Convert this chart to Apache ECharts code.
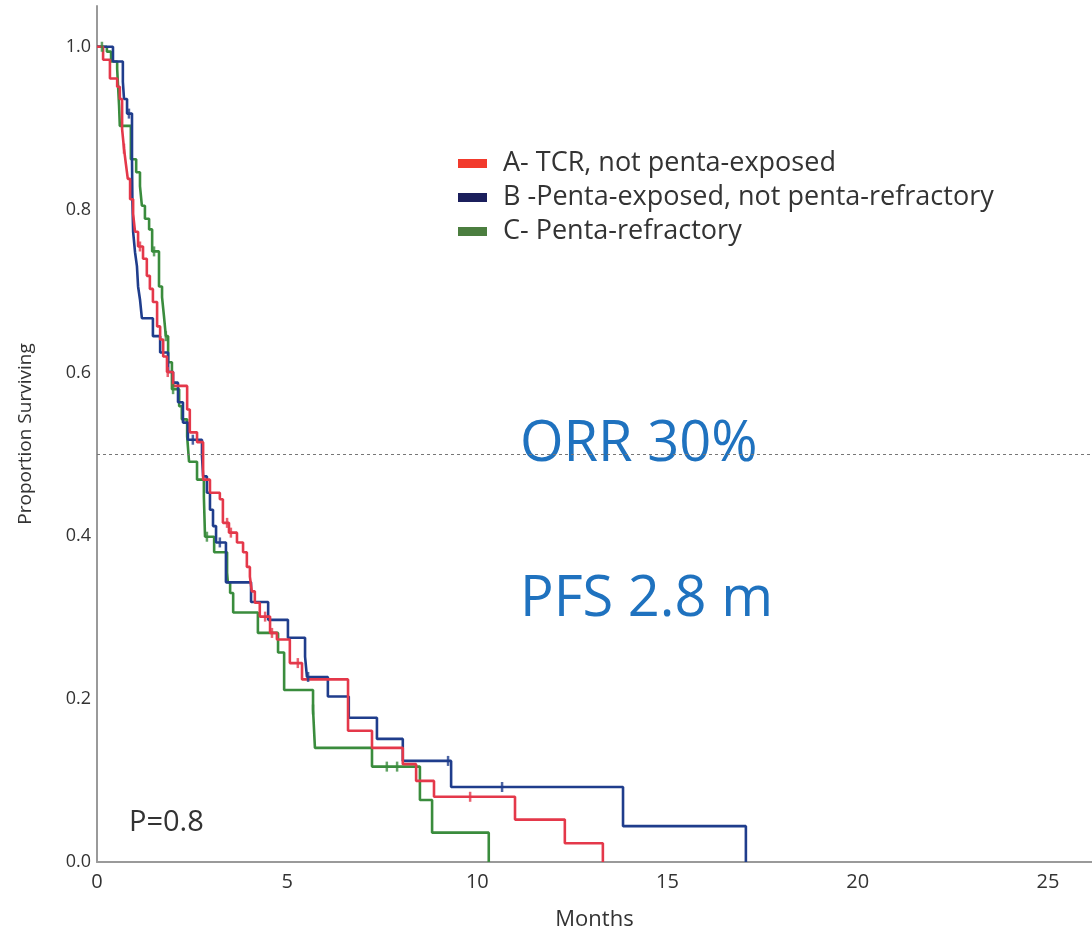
<!DOCTYPE html>
<html>
<head>
<meta charset="utf-8">
<title>Proportion Surviving by group</title>
<script src="https://cdn.jsdelivr.net/npm/echarts@6/dist/echarts.min.js"></script>
<style>
  html, body { margin: 0; padding: 0; background: #fff; }
  #chart { width: 1092px; height: 930px; }
</style>
</head>
<body>
<div id="chart"></div>
<script>
// Kaplan-Meier steps: event time (months) and survival after the event
const groupNames = [
  'A- TCR, not penta-exposed',
  'B -Penta-exposed, not penta-refractory',
  'C- Penta-refractory'
];

const timesA = [0, 0.16, 0.34, 0.53, 0.60, 0.66, 0.71, 0.76, 0.81, 0.87, 0.95, 1.00, 1.08, 1.21, 1.31, 1.39, 1.47, 1.58, 1.66, 1.74, 1.84, 2.00, 2.37, 2.44, 2.63, 2.79, 2.97, 3.23, 3.31, 3.47, 3.68, 3.84, 3.94, 4.02, 4.07, 4.15, 4.28, 4.55, 4.73, 5.07, 5.39, 6.60, 7.23, 8.04, 8.39, 8.86, 10.99, 12.30, 13.30];
const survA  = [1.0, 0.984, 0.961, 0.951, 0.936, 0.899, 0.875, 0.856, 0.838, 0.813, 0.795, 0.773, 0.755, 0.740, 0.719, 0.703, 0.687, 0.657, 0.641, 0.620, 0.601, 0.584, 0.555, 0.527, 0.515, 0.469, 0.453, 0.445, 0.416, 0.404, 0.392, 0.380, 0.362, 0.350, 0.332, 0.318, 0.301, 0.281, 0.273, 0.244, 0.224, 0.161, 0.140, 0.120, 0.0995, 0.080, 0.052, 0.023, 0];
const censorTimesA = [0.71, 1.13, 1.86, 3.42, 3.52, 4.42, 4.60, 5.28, 9.81];
const censorSurvA  = [0.875, 0.755, 0.601, 0.416, 0.404, 0.301, 0.281, 0.244, 0.080];

const timesB = [0, 0.42, 0.68, 0.71, 0.79, 0.92, 0.93, 0.95, 1.00, 1.05, 1.08, 1.13, 1.18, 1.47, 1.66, 1.87, 2.00, 2.13, 2.26, 2.39, 2.76, 2.79, 2.89, 2.97, 3.05, 3.13, 3.39, 4.05, 4.50, 5.02, 5.47, 5.52, 6.07, 6.62, 7.36, 8.04, 9.31, 13.83, 17.06];
const survB  = [1.0, 0.982, 0.957, 0.936, 0.918, 0.862, 0.813, 0.773, 0.748, 0.731, 0.706, 0.690, 0.667, 0.645, 0.625, 0.601, 0.588, 0.564, 0.539, 0.518, 0.498, 0.473, 0.453, 0.432, 0.412, 0.392, 0.343, 0.319, 0.297, 0.275, 0.252, 0.227, 0.203, 0.177, 0.151, 0.124, 0.092, 0.044, 0];
const censorTimesB = [0.84, 2.52, 3.23, 5.55, 9.23, 10.65];
const censorSurvB  = [0.918, 0.518, 0.392, 0.227, 0.124, 0.092];

const timesC = [0, 0.26, 0.37, 0.53, 0.58, 0.60, 0.89, 1.03, 1.13, 1.18, 1.26, 1.37, 1.45, 1.63, 1.71, 1.76, 1.81, 1.87, 1.97, 2.16, 2.23, 2.37, 2.42, 2.63, 2.81, 2.84, 3.08, 3.42, 3.44, 3.50, 3.58, 4.23, 4.76, 4.92, 5.68, 5.73, 7.23, 8.49, 8.81, 10.30];
const survC  = [1.0, 0.994, 0.982, 0.973, 0.928, 0.903, 0.862, 0.846, 0.829, 0.805, 0.789, 0.776, 0.749, 0.706, 0.693, 0.670, 0.645, 0.613, 0.580, 0.559, 0.543, 0.522, 0.491, 0.469, 0.448, 0.399, 0.380, 0.355, 0.343, 0.330, 0.306, 0.281, 0.257, 0.211, 0.187, 0.140, 0.117, 0.076, 0.036, 0];
const censorTimesC = [0.13, 1.50, 1.81, 2.00, 2.89, 5.68, 7.62, 7.89];
const censorSurvC  = [1.0, 0.749, 0.645, 0.580, 0.399, 0.187, 0.117, 0.117];

const monthTicks = [0, 5, 10, 15, 20, 25];
const survTicks = [0.0, 0.2, 0.4, 0.6, 0.8, 1.0];

const lineColors   = ['#e4384a', '#1f3d8c', '#3a8c3d'];
const legendColors = ['#f23a2c', '#1b1f5c', '#4b7e3f'];

const zip = (xs, ys) => xs.map((x, i) => [x, ys[i]]);
const steps = [zip(timesA, survA), zip(timesB, survB), zip(timesC, survC)];
const censors = [zip(censorTimesA, censorSurvA), zip(censorTimesB, censorSurvB), zip(censorTimesC, censorSurvC)];

const FONT = '"Open Sans", "Noto Sans", sans-serif';

const series = [];
steps.forEach((data, i) => {
  const s = {
    name: groupNames[i],
    type: 'line',
    step: 'end',
    data: data,
    showSymbol: false,
    symbol: 'none',
    lineStyle: { color: lineColors[i], width: 2.6 },
    itemStyle: { color: legendColors[i] },
    z: 3 + (2 - i),
    animation: false
  };
  if (i === 0) {
    // median reference line at 0.5
    s.markLine = {
      silent: true,
      symbol: ['none', 'none'],
      label: { show: false },
      lineStyle: { color: '#777', type: [3, 3], width: 1 },
      data: [{ yAxis: 0.5 }],
      animation: false
    };
  }
  series.push(s);
});
censors.forEach((data, i) => {
  series.push({
    name: groupNames[i] + ' (censored)',
    type: 'scatter',
    data: data,
    symbol: 'rect',
    symbolSize: [2.5, 10],
    itemStyle: { color: lineColors[i] },
    z: 6,
    animation: false
  });
});

const chart = echarts.init(document.getElementById('chart'), null, { renderer: 'canvas' });
chart.setOption({
  backgroundColor: '#ffffff',
  animation: false,
  grid: { left: 97, right: 0, top: 6, bottom: 68, containLabel: false, outerBoundsMode: 'none' },
  legend: {
    data: groupNames,
    orient: 'vertical',
    left: 453,
    top: 145,
    icon: 'rect',
    itemWidth: 29,
    itemHeight: 9,
    itemGap: 7,
    textStyle: { fontFamily: FONT, fontSize: 27, color: '#333', padding: [0, 0, 0, 11] }
  },
  xAxis: {
    type: 'value',
    min: 0,
    max: 26.16,
    interval: 5,
    name: 'Months',
    nameLocation: 'middle',
    nameGap: 47,
    nameTextStyle: { fontFamily: FONT, fontSize: 22, color: '#333' },
    axisLine: { show: true, onZero: false, lineStyle: { color: '#9a9a9a', width: 2 } },
    axisTick: { show: false },
    splitLine: { show: false },
    axisLabel: {
      fontFamily: FONT, fontSize: 20, color: '#333', margin: 10,
      showMaxLabel: false,
      formatter: v => monthTicks.includes(v) ? String(v) : ''
    }
  },
  yAxis: {
    type: 'value',
    min: 0,
    max: 1.05,
    interval: 0.2,
    name: 'Proportion Surviving',
    nameLocation: 'middle',
    nameGap: 62,
    nameRotate: 90,
    nameTextStyle: { fontFamily: FONT, fontSize: 19, color: '#333' },
    axisLine: { show: true, onZero: false, lineStyle: { color: '#9a9a9a', width: 2 } },
    axisTick: { show: false },
    splitLine: { show: false },
    axisLabel: {
      fontFamily: FONT, fontSize: 18, color: '#333', margin: 6,
      showMaxLabel: false,
      formatter: v => {
        const t = survTicks.find(s => Math.abs(s - v) < 1e-6);
        return t === undefined ? '' : t.toFixed(1);
      }
    }
  },
  graphic: [
    { type: 'text', left: 520, top: 417, style: { text: 'ORR 30%', fontFamily: FONT, fontSize: 56, fill: '#1f72bf' } },
    { type: 'text', left: 520, top: 572, style: { text: 'PFS 2.8 m', fontFamily: FONT, fontSize: 56, fill: '#1f72bf' } },
    { type: 'text', left: 129, top: 808, style: { text: 'P=0.8', fontFamily: FONT, fontSize: 29, fill: '#333' } }
  ],
  series: series
});
</script>
</body>
</html>
